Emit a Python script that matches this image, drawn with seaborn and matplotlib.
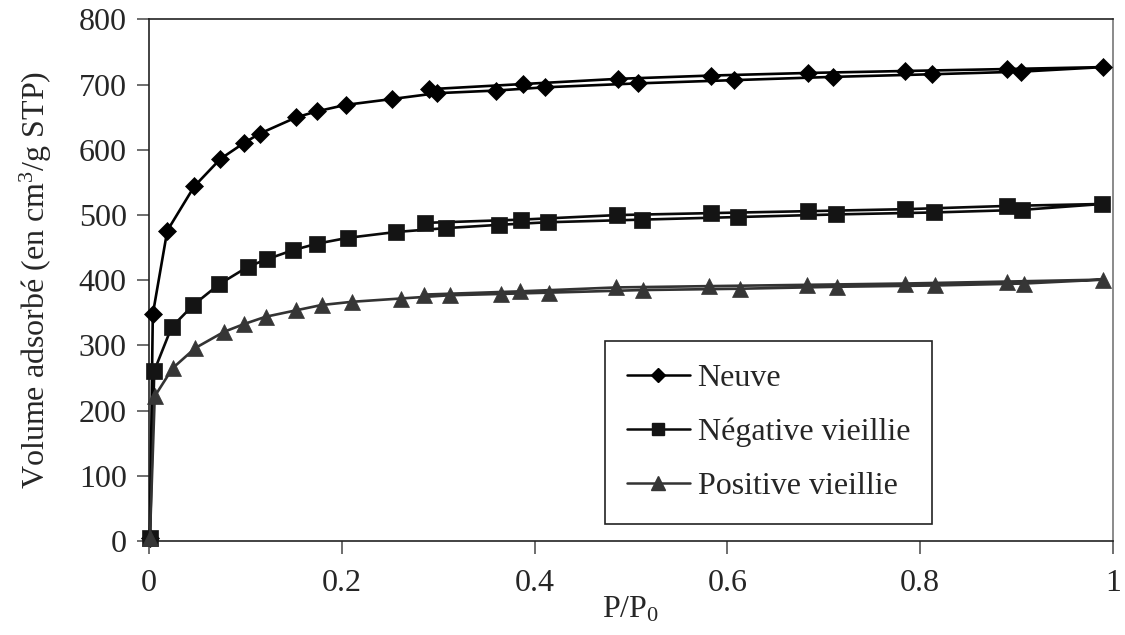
import numpy as np
import pandas as pd
import matplotlib
matplotlib.use("Agg")
import matplotlib.pyplot as plt
from matplotlib.lines import Line2D
from matplotlib.ticker import FuncFormatter
import seaborn as sns

# ---- data ----
series_names = ["Neuve", "Négative vieillie", "Positive vieillie"]

neuve_ads_x = [0.001, 0.004, 0.019, 0.047, 0.074, 0.099, 0.115, 0.153, 0.174, 0.204,
               0.252, 0.299, 0.360, 0.411, 0.507, 0.607, 0.710, 0.812, 0.905, 0.990]
neuve_ads_y = [5, 348, 476, 544, 586, 611, 625, 650, 659, 669,
               678, 687, 691, 696, 702, 707, 712, 716, 720, 727]
neuve_des_x = [0.890, 0.784, 0.684, 0.583, 0.487, 0.388, 0.290]
neuve_des_y = [724, 721, 718, 714, 709, 701, 693]

neg_ads_x = [0.001, 0.0055, 0.0235, 0.046, 0.073, 0.103, 0.122, 0.149, 0.174, 0.206,
             0.256, 0.308, 0.363, 0.414, 0.511, 0.611, 0.713, 0.814, 0.906, 0.989]
neg_ads_y = [5, 261, 328, 362, 394, 421, 432, 446, 456, 465,
             474, 480, 485, 489, 493, 497, 501, 504, 508, 517]
neg_des_x = [0.890, 0.784, 0.684, 0.583, 0.486, 0.386, 0.286]
neg_des_y = [514, 509, 506, 503, 500, 493, 488]

pos_ads_x = [0.001, 0.006, 0.0245, 0.048, 0.078, 0.099, 0.121, 0.153, 0.179, 0.211,
             0.261, 0.312, 0.365, 0.415, 0.512, 0.613, 0.714, 0.815, 0.908, 0.990]
pos_ads_y = [5, 222, 265, 296, 321, 333, 344, 354, 362, 367,
             372, 377, 379, 381, 385, 387, 390, 392, 395, 401]
pos_des_x = [0.890, 0.784, 0.683, 0.581, 0.485, 0.385, 0.285]
pos_des_y = [398, 395, 393, 391, 389, 383, 378]

x_ticks = [0, 0.2, 0.4, 0.6, 0.8, 1.0]
y_ticks = [0, 100, 200, 300, 400, 500, 600, 700, 800]

# ---- build long table ----
rows = []
for name, ax_, ay_, dx_, dy_ in [
    (series_names[0], neuve_ads_x, neuve_ads_y, neuve_des_x, neuve_des_y),
    (series_names[1], neg_ads_x, neg_ads_y, neg_des_x, neg_des_y),
    (series_names[2], pos_ads_x, pos_ads_y, pos_des_x, pos_des_y),
]:
    xs = list(ax_) + list(dx_)
    ys = list(ay_) + list(dy_)
    for i, (xv, yv) in enumerate(zip(xs, ys)):
        rows.append({"serie": name, "order": i, "P": xv, "V": yv})
df = pd.DataFrame(rows)

# ---- style ----
sns.set_theme(style="white")
plt.rcParams["font.family"] = ["Liberation Serif", "DejaVu Serif"]
plt.rcParams["mathtext.fontset"] = "custom"
plt.rcParams["mathtext.rm"] = "Liberation Serif"
plt.rcParams["mathtext.it"] = "Liberation Serif:italic"
plt.rcParams["mathtext.default"] = "regular"

FS = 23
line_colors = {"Neuve": "#000000", "Négative vieillie": "#0a0a0a", "Positive vieillie": "#333333"}
marker_face = {"Neuve": "#000000", "Négative vieillie": "#141414", "Positive vieillie": "#363636"}
markers = {"Neuve": "D", "Négative vieillie": "s", "Positive vieillie": "^"}
msizes = {"Neuve": 9.5, "Négative vieillie": 11.5, "Positive vieillie": 12}

fig = plt.figure(figsize=(11.25, 6.35), dpi=100)
ax = fig.add_axes([0.1324, 0.148, 0.8569, 0.8213])

for name in series_names:
    sub = df[df["serie"] == name].sort_values("order")
    sns.lineplot(data=sub, x="P", y="V", sort=False, estimator=None,
                 color=line_colors[name], linewidth=1.9,
                 marker=markers[name], markersize=msizes[name],
                 markerfacecolor=marker_face[name], markeredgecolor=marker_face[name],
                 markeredgewidth=0.5, ax=ax, legend=False, clip_on=False, zorder=3)

ax.set_xlim(0, 1)
ax.set_ylim(0, 800)
ax.set_xticks(x_ticks)
ax.set_yticks(y_ticks)
ax.xaxis.set_major_formatter(FuncFormatter(lambda v, p: f"{v:g}"))
ax.tick_params(axis="both", which="major", direction="out", length=9, width=1.2,
               color="#555555", labelsize=FS, pad=7, bottom=True, left=True)
ax.tick_params(axis="x", pad=11)
for s in ax.spines.values():
    s.set_visible(True)
    s.set_color("#222222")
    s.set_linewidth(1.2)
ax.spines["right"].set_color("#777777")

ax.set_xlabel("P/P$_{0}$", fontsize=FS, labelpad=-2)
ax.set_ylabel("Volume adsorbé (en cm$^{3}$/g STP)", fontsize=FS, labelpad=18)

handles = [Line2D([0], [0], color=line_colors[n], linewidth=1.8, marker=markers[n],
                  markersize=msizes[n] * 0.8, markerfacecolor=marker_face[n],
                  markeredgecolor=marker_face[n]) for n in series_names]
leg = ax.legend(handles, series_names, loc="upper left", bbox_to_anchor=(0.473, 0.3835),
                borderaxespad=0, fontsize=FS, frameon=True, fancybox=False,
                edgecolor="#222222", framealpha=1, handlelength=1.95, handletextpad=0.25,
                labelspacing=0.78, borderpad=0.7)
leg.get_frame().set_linewidth(1.2)

fig.savefig("out.png", dpi=100)
